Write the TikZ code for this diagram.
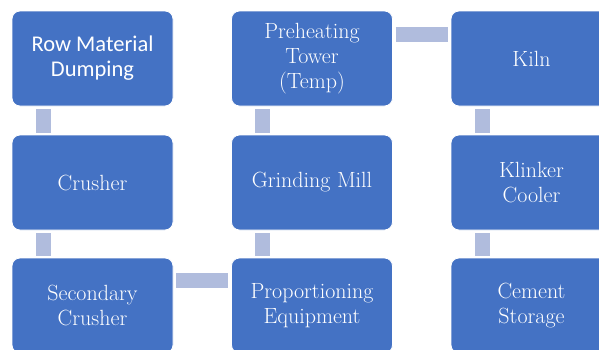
\documentclass[tikz,border=0pt]{standalone}
\usepackage{fontspec}
\newfontfamily\calib{Carlito}
\usetikzlibrary{calc}
\definecolor{boxblue}{RGB}{68,114,196}
\definecolor{barblue}{RGB}{176,188,221}
\tikzset{
  box/.style={rectangle, rounded corners=8pt, fill=boxblue, draw=white, line width=0.8pt,
    minimum width=161pt, minimum height=95pt, inner sep=0pt, text=white, align=center},
  serifont/.style={font=\rmfamily\fontsize{22}{25}\selectfont},
  bar/.style={draw=barblue, line width=15pt}
}
\begin{document}
\begin{tikzpicture}[x=1pt,y=-1pt]
\clip (0,0) rectangle (599,349);
\fill[white] (0,0) rectangle (599,349);
% column 1
\node[box, font=\calib\fontsize{22.5}{25}\selectfont] (rmd) at (92.5,58.5) {Row Material\\Dumping};
\node[box, serifont] (cr) at (92.5,182.5) {Crusher};
\node[box, serifont] (sc) at (92.5,305.5) {Secondary\\Crusher};
% column 2
\node[box, serifont] (pt) at (312,58.5) {Preheating\\Tower\\(Temp)};
\node[box, serifont] (gm) at (312,182.5) {Grinding Mill};
\node[box, serifont] (pe) at (312,305.5) {Proportioning\\Equipment};
% column 3
\node[box, serifont] (ki) at (531.5,58.5) {Kiln};
\node[box, serifont] (kc) at (531.5,182.5) {Klinker\\Cooler};
\node[box, serifont] (cs) at (531.5,305.5) {Cement\\Storage};
% vertical bars
\draw[bar] ($(rmd.south west)+(31.5,3)$) -- ($(cr.north west)+(31.5,-2)$);
\draw[bar] ($(cr.south west)+(31.5,3)$) -- ($(sc.north west)+(31.5,-2)$);
\draw[bar] ($(pe.north west)+(31.5,-2)$) -- ($(gm.south west)+(31.5,3)$);
\draw[bar] ($(gm.north west)+(31.5,-2)$) -- ($(pt.south west)+(31.5,3)$);
\draw[bar] ($(ki.south west)+(31.5,3)$) -- ($(kc.north west)+(31.5,-2)$);
\draw[bar] ($(kc.south west)+(31.5,3)$) -- ($(cs.north west)+(31.5,-2)$);
% horizontal bars
\draw[bar] ($(sc.north east)+(3,23)$) -- ($(pe.north west)+(-3,23)$);
\draw[bar] ($(pt.north east)+(3,23.5)$) -- ($(ki.north west)+(-3,23.5)$);
\end{tikzpicture}
\end{document}
